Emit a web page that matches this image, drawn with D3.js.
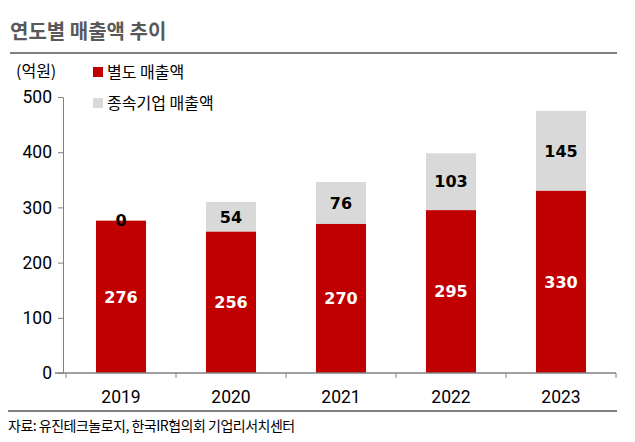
<!DOCTYPE html>
<html>
<head>
<meta charset="utf-8">
<script src="https://cdn.jsdelivr.net/npm/d3@7"></script>
<style>
  body { margin: 0; background: #fff; }
  svg { display: block; }
  .kr { font-family: "Noto Sans CJK KR", "Noto Sans", sans-serif; }
</style>
</head>
<body>
<div id="chart"></div>
<script>
// data
var years = ["2019", "2020", "2021", "2022", "2023"];
var standalone = [276, 256, 270, 295, 330];   // 별도 매출액
var subsidiary = [0, 54, 76, 103, 145];       // 종속기업 매출액
var yTicks = [0, 100, 200, 300, 400, 500];

var W = 635, H = 442;
var red = "#c00000", grey = "#d9d9d9";

var svg = d3.select("#chart").append("svg")
    .attr("width", W)
    .attr("height", H);

// title + rules
svg.append("text")
    .attr("class", "kr")
    .attr("x", 10).attr("y", 39)
    .attr("font-size", 20).attr("font-weight", "bold")
    .attr("fill", "#595959")
    .text("연도별 매출액 추이");
svg.append("line")
    .attr("x1", 10).attr("x2", 617).attr("y1", 53).attr("y2", 53)
    .attr("stroke", "#808080").attr("stroke-width", 2);
svg.append("line")
    .attr("x1", 8).attr("x2", 617).attr("y1", 411).attr("y2", 411)
    .attr("stroke", "#808080").attr("stroke-width", 2);

// scales
var x = d3.scaleBand()
    .domain(years)
    .range([66, 616])
    .paddingInner(0.545)
    .paddingOuter(0.2725);

var y = d3.scaleLinear()
    .domain([0, 500])
    .range([373, 97]);

var data = years.map(function(d, i) {
  return {year: d, base: standalone[i], sub: subsidiary[i]};
});

// bars
var bar = svg.selectAll("g.bar")
    .data(data)
    .enter().append("g")
    .attr("class", "bar");

bar.append("rect")
    .attr("x", function(d) { return x(d.year); })
    .attr("width", x.bandwidth())
    .attr("y", function(d) { return y(d.base + d.sub); })
    .attr("height", function(d) { return y(d.base) - y(d.base + d.sub); })
    .attr("fill", grey);

bar.append("rect")
    .attr("x", function(d) { return x(d.year); })
    .attr("width", x.bandwidth())
    .attr("y", function(d) { return y(d.base); })
    .attr("height", function(d) { return y(0) - y(d.base); })
    .attr("fill", red);

// value labels
var numFont = "DejaVu Sans, sans-serif";
bar.append("text")
    .attr("x", function(d) { return x(d.year) + x.bandwidth() / 2; })
    .attr("y", function(d) { return (y(0) + y(d.base)) / 2; })
    .attr("dy", "0.36em")
    .attr("text-anchor", "middle")
    .attr("font-family", numFont).attr("font-weight", "bold").attr("font-size", 16)
    .attr("fill", "#fff")
    .text(function(d) { return d.base; });

bar.append("text")
    .attr("x", function(d) { return x(d.year) + x.bandwidth() / 2; })
    .attr("y", function(d) { return (y(d.base) + y(d.base + d.sub)) / 2; })
    .attr("dy", "0.36em")
    .attr("text-anchor", "middle")
    .attr("font-family", numFont).attr("font-weight", "bold").attr("font-size", 16)
    .attr("fill", "#000")
    .text(function(d) { return d.sub; });

// y axis
var yAxis = svg.append("g")
    .attr("transform", "translate(63,0)")
    .call(d3.axisLeft(y).tickValues(yTicks).tickSize(5).tickPadding(6).tickSizeOuter(0));
yAxis.selectAll("text")
    .attr("font-family", "Roboto, sans-serif").attr("font-size", 17.5).attr("fill", "#000");
yAxis.selectAll("line, path").attr("stroke", "#808080");

// x axis: ticks on band edges
var xAxis = svg.append("g")
    .attr("transform", "translate(0," + y(0) + ")");
xAxis.append("line")
    .attr("x1", 55).attr("x2", 616)
    .attr("stroke", "#808080").attr("stroke-width", 1.5);
var edges = years.map(function(d) { return x(d) - x.step() * x.paddingInner() / 2; })
    .concat([616]);
xAxis.selectAll("line.edge")
    .data(edges)
    .enter().append("line")
    .attr("class", "edge")
    .attr("x1", function(d) { return d; }).attr("x2", function(d) { return d; })
    .attr("y1", 0).attr("y2", 5)
    .attr("stroke", "#808080");
xAxis.selectAll("text")
    .data(years)
    .enter().append("text")
    .attr("x", function(d) { return x(d) + x.bandwidth() / 2; })
    .attr("y", 24)
    .attr("dy", "0.36em")
    .attr("text-anchor", "middle")
    .attr("font-family", "Roboto, sans-serif").attr("font-size", 17.5)
    .text(function(d) { return d; });

// unit + legend
svg.append("text")
    .attr("class", "kr")
    .attr("x", 16).attr("y", 77)
    .attr("font-size", 16)
    .text("(억원)");

var legend = [{name: "별도 매출액", color: red}, {name: "종속기업 매출액", color: grey}];
var lg = svg.selectAll("g.legend")
    .data(legend)
    .enter().append("g")
    .attr("class", "legend")
    .attr("transform", function(d, i) { return "translate(93," + (66 + i * 31) + ")"; });
lg.append("rect")
    .attr("width", 10).attr("height", 10)
    .attr("y", 1)
    .attr("fill", function(d) { return d.color; });
lg.append("text")
    .attr("class", "kr")
    .attr("x", 14).attr("y", 6)
    .attr("dy", "0.36em")
    .attr("font-size", 16)
    .text(function(d) { return d.name; });

// source
svg.append("text")
    .attr("class", "kr")
    .attr("x", 8).attr("y", 431)
    .attr("font-size", 14)
    .attr("letter-spacing", -0.5)
    .text("자료: 유진테크놀로지, 한국IR협의회 기업리서치센터");
</script>
</body>
</html>
